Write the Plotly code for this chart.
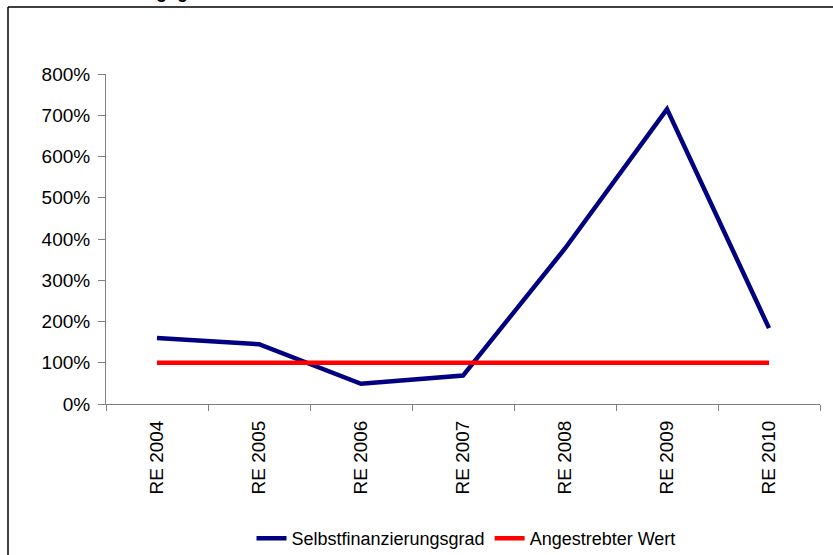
import plotly.graph_objects as go

# data (values in percent)
years = ["RE 2004", "RE 2005", "RE 2006", "RE 2007", "RE 2008", "RE 2009", "RE 2010"]
selbstfinanzierungsgrad = [160, 145, 49, 69, 377, 715, 184]
angestrebter_wert = [100, 100, 100, 100, 100, 100, 100]

W, H = 833, 555
L, R, T, B = 106, 13, 74, 151
pw, ph = W - L - R, H - T - B

def px_x(x):
    return (x - L) / pw

def px_y(y):
    return (H - B - y) / ph

fig = go.Figure()
fig.add_trace(go.Scatter(
    x=years, y=[v / 100 for v in selbstfinanzierungsgrad],
    mode="lines", name="Selbstfinanzierungsgrad",
    line=dict(color="#000080", width=4.5),
))
fig.add_trace(go.Scatter(
    x=years, y=[v / 100 for v in angestrebter_wert],
    mode="lines", name="Angestrebter Wert",
    line=dict(color="#FF0000", width=4.5),
))

font = "Liberation Sans, Arial, sans-serif"

fig.update_layout(
    width=W, height=H,
    margin=dict(l=L, r=R, t=T, b=B, autoexpand=False),
    paper_bgcolor="white", plot_bgcolor="white",
    font=dict(family=font, color="black"),
    showlegend=True,
    legend=dict(orientation="h", x=px_x(466), xanchor="center",
                y=px_y(538.6), yanchor="middle",
                font=dict(size=18), itemwidth=30, tracegroupgap=0),
    xaxis=dict(showgrid=False, showline=True, linecolor="#808080", linewidth=1,
               ticks="outside", ticklen=6, tickcolor="#808080", tickson="boundaries",
               range=[-0.5, 6.5], automargin=False,
               tickangle=-90, tickfont=dict(size=19), ticklabelstandoff=8),
    yaxis=dict(showgrid=False, showline=True, linecolor="#808080", linewidth=1,
               ticks="outside", ticklen=7, tickcolor="#808080", automargin=False,
               range=[0, 8], dtick=1, tickformat=".0%", zeroline=False,
               tickfont=dict(size=19), ticklabelstandoff=4),
    shapes=[
        dict(type="line", xref="paper", yref="paper",
             x0=px_x(8), x1=px_x(840), y0=px_y(7), y1=px_y(7),
             line=dict(color="black", width=1.5)),
        dict(type="line", xref="paper", yref="paper",
             x0=px_x(8), x1=px_x(8), y0=px_y(7), y1=px_y(560),
             line=dict(color="black", width=1.5)),
    ],
    annotations=[
        # chart title, cropped at the top edge like in the original image
        dict(text="<b>Selbstfinanzierungsgrad</b>", xref="paper", yref="paper",
             x=px_x(4), xanchor="left", y=px_y(4.5), yanchor="bottom",
             showarrow=False, font=dict(size=18, family=font)),
    ],
)

# page without the default body margin so the figure fills the window
fig.write_html("out.html", config={"displayModeBar": False},
               post_script="document.body.style.margin='0';")
